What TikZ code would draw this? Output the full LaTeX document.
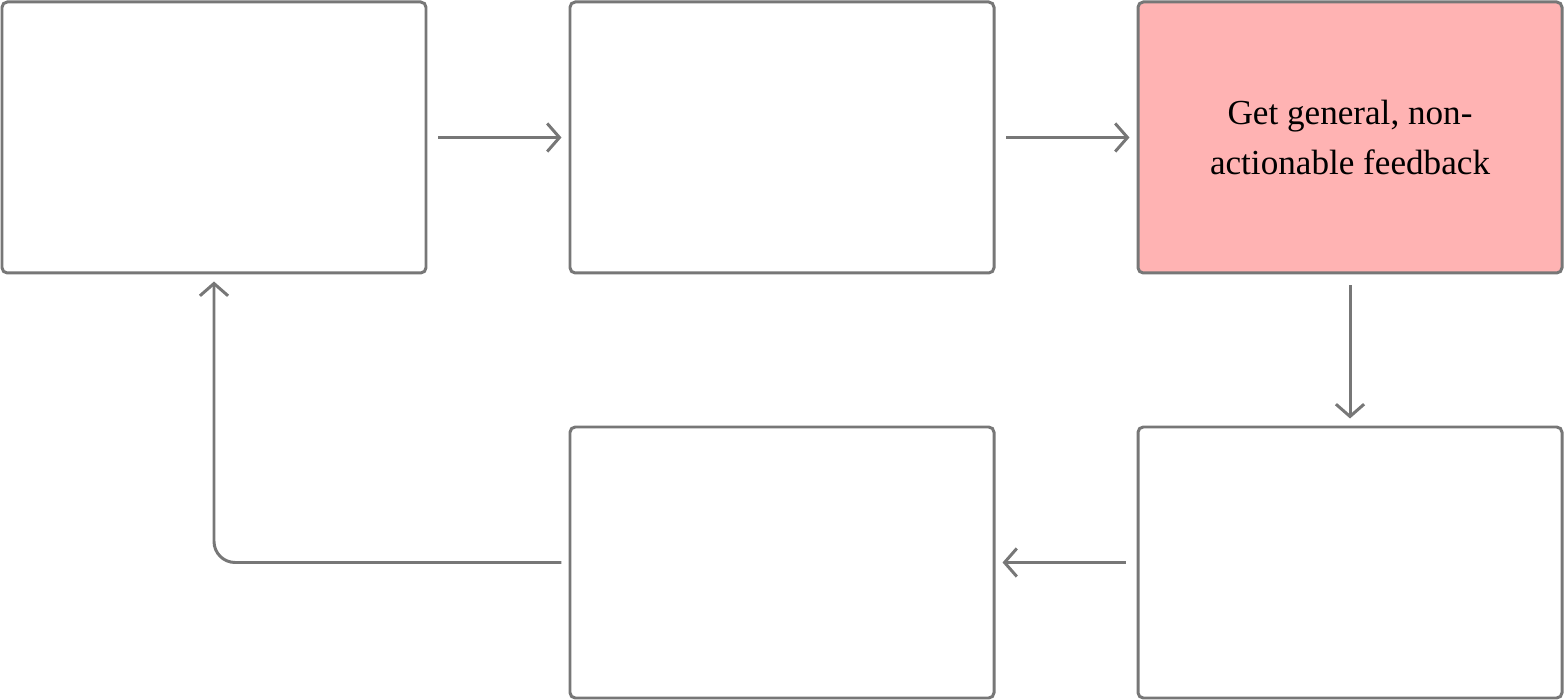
\documentclass[tikz,border=0pt]{standalone}
\usepackage{fontspec}
\setmainfont{Liberation Serif}
\usetikzlibrary{arrows.meta}
\definecolor{linegray}{HTML}{777777}
\definecolor{boxpink}{HTML}{FFB3B3}
\tikzset{
  stage/.style={draw=linegray, line width=1.7pt, rounded corners=3pt, minimum width=8.48cm, minimum height=5.42cm, align=center, font=\fontsize{20}{28}\selectfont},
  flow/.style={draw=linegray, line width=1.7pt, -{Straight Barb[length=7pt,width=16pt,line width=1.7pt]}}
}
\begin{document}
\begin{tikzpicture}
\useasboundingbox (0,0) rectangle (31.28,14);

\node[stage] (prep) at (4.28,11.25) {};
\node[stage] (ask) at (15.64,11.25) {};
\node[stage, fill=boxpink] (feedback) at (27.0,11.25) {Get general, non-\\actionable feedback};
\node[stage] (react) at (27.0,2.75) {};
\node[stage] (retry) at (15.64,2.75) {};

\draw[flow] ([xshift=6pt]prep.east) -- ([xshift=-4pt]ask.west);
\draw[flow] ([xshift=6pt]ask.east) -- ([xshift=-4pt]feedback.west);
\draw[flow] ([yshift=-6pt]feedback.south) -- ([yshift=4pt]react.north);
\draw[flow] ([xshift=-6pt]react.west) -- ([xshift=4pt]retry.east);
\draw[flow, rounded corners=12pt] ([xshift=-4pt]retry.west) -| ([yshift=-4pt]prep.south);
\end{tikzpicture}
\end{document}
